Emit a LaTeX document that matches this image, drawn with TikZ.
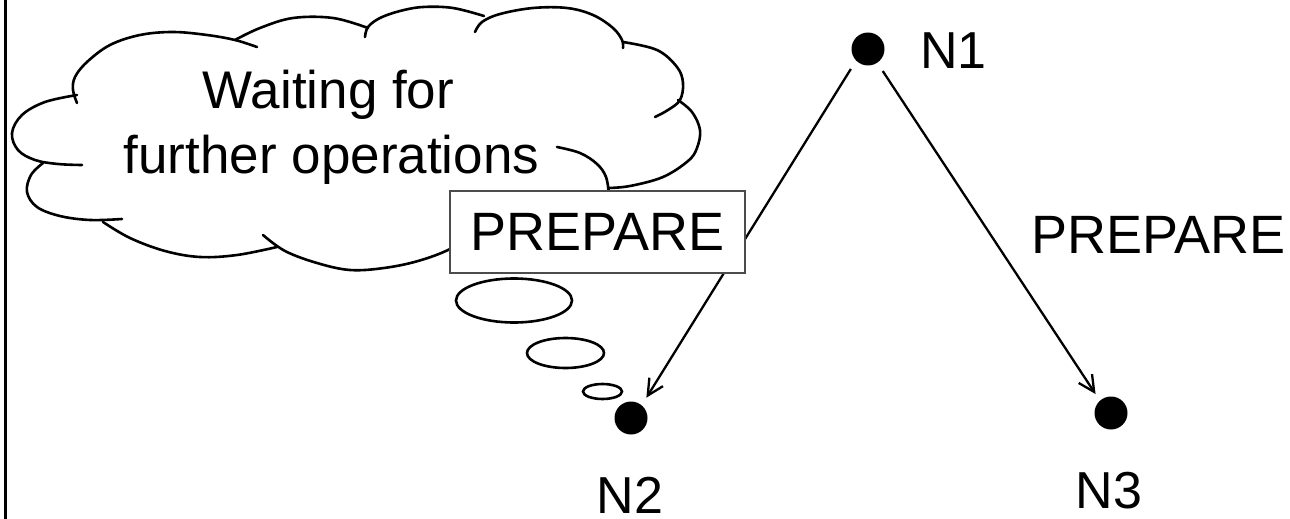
\documentclass[tikz,border=0pt]{standalone}
\usepackage{fontspec}
\setmainfont{Liberation Sans}
\usetikzlibrary{arrows.meta}
\begin{document}
\begin{tikzpicture}[x=1pt,y=-1pt,
  dot/.style={circle,fill=black,minimum size=33pt,inner sep=0pt,outer sep=0pt},
  lbl/.style={font=\fontsize{52}{60}\selectfont,inner sep=0pt,anchor=base},
  thought/.style={font=\fontsize{53}{64}\selectfont,inner sep=0pt,anchor=base},
  msgbox/.style={draw=black!70,line width=1.2pt,fill=white,minimum width=295pt,
    minimum height=82pt,inner sep=0pt,font=\fontsize{54}{64}\selectfont},
  msg/.style={font=\fontsize{54}{64}\selectfont,inner sep=0pt,anchor=base},
  arr/.style={line width=2.3pt,-{Straight Barb[length=16pt,width=16pt,line width=2.3pt]}},
  cloudline/.style={line width=2.6pt,line cap=round},
  bubble/.style={draw,line width=2.6pt}
]
\useasboundingbox (0,0) rectangle (1290,519);
\fill[white] (0,0) rectangle (1290,519);

% frame edge on the left
\draw[line width=2.5pt] (5.5,0) -- (5.5,519);

% thought cloud, one arc per bump
\begin{scope}[cloudline]
\draw plot[smooth,tension=0.6] coordinates {(77,95) (45,102) (22,115) (12,133) (18,150) (35,160) (58,164) (82,165)};
\draw plot[smooth,tension=0.6] coordinates {(43,163) (31,175) (27,192) (37,207) (60,216) (90,220) (122,219)};
\draw plot[smooth,tension=0.6] coordinates {(103,222) (130,238) (165,251) (200,257) (237,255) (277,247)};
\draw plot[smooth,tension=0.6] coordinates {(263,235) (285,251) (317,263) (350,270) (384,268) (418,261) (450,249) (475,232)};
\draw plot[smooth,tension=0.6] coordinates {(557,147) (580,153) (597,164) (606,177) (609,195)};
\draw plot[smooth,tension=0.6] coordinates {(678,100) (692,112) (700,130) (697,148) (688,161) (663,177) (630,186) (608,188)};
\draw plot[smooth,tension=0.6] coordinates {(623,42) (657,50) (677,67) (683,83) (680,100) (668,110) (655,117)};
\draw plot[smooth,tension=0.6] coordinates {(475,32) (482,22) (500,14) (533,8) (567,8) (593,15) (613,28) (622,40) (623,48)};
\draw plot[smooth,tension=0.6] coordinates {(365,37) (368,27) (380,18) (400,11) (423,7) (453,8) (484,16)};
\draw plot[smooth,tension=0.6] coordinates {(235,40) (260,28) (293,18) (333,18) (368,28)};
\draw plot[smooth,tension=0.6] coordinates {(77,103) (73,90) (75,77) (87,62) (110,45) (140,35) (173,32) (207,35) (235,40) (257,47)};
\end{scope}

\node[thought] (w1) at (328.5,108) {Waiting for};
\node[thought] (w2) at (331.5,173) {further operations};

% trailing bubbles
\draw[bubble] (514,300.5) ellipse [x radius=58pt, y radius=22pt];
\draw[bubble] (565.5,353) ellipse [x radius=38.5pt, y radius=15pt];
\draw[bubble] (602.5,391.5) ellipse [x radius=19.5pt, y radius=7.5pt];

% nodes
\node[dot] (n1) at (868,49) {};
\node[dot] (n2) at (631,418) {};
\node[dot] (n3) at (1111,413) {};
\node[lbl] (l1) at (953.5,68) {N1};
\node[lbl] (l2) at (630,513.5) {N2};
\node[lbl] (l3) at (1109,508) {N3};

% messages
\draw[arr,shorten <=10pt,shorten >=9pt] (n1.224) -- (n2.50);
\draw[arr,shorten <=10pt,shorten >=8pt] (n1.304) -- (n3.132);

\node[msgbox] (p1) at (597.5,232) {PREPARE};
\node[msg] (p2) at (1158.5,253) {PREPARE};
\end{tikzpicture}
\end{document}
